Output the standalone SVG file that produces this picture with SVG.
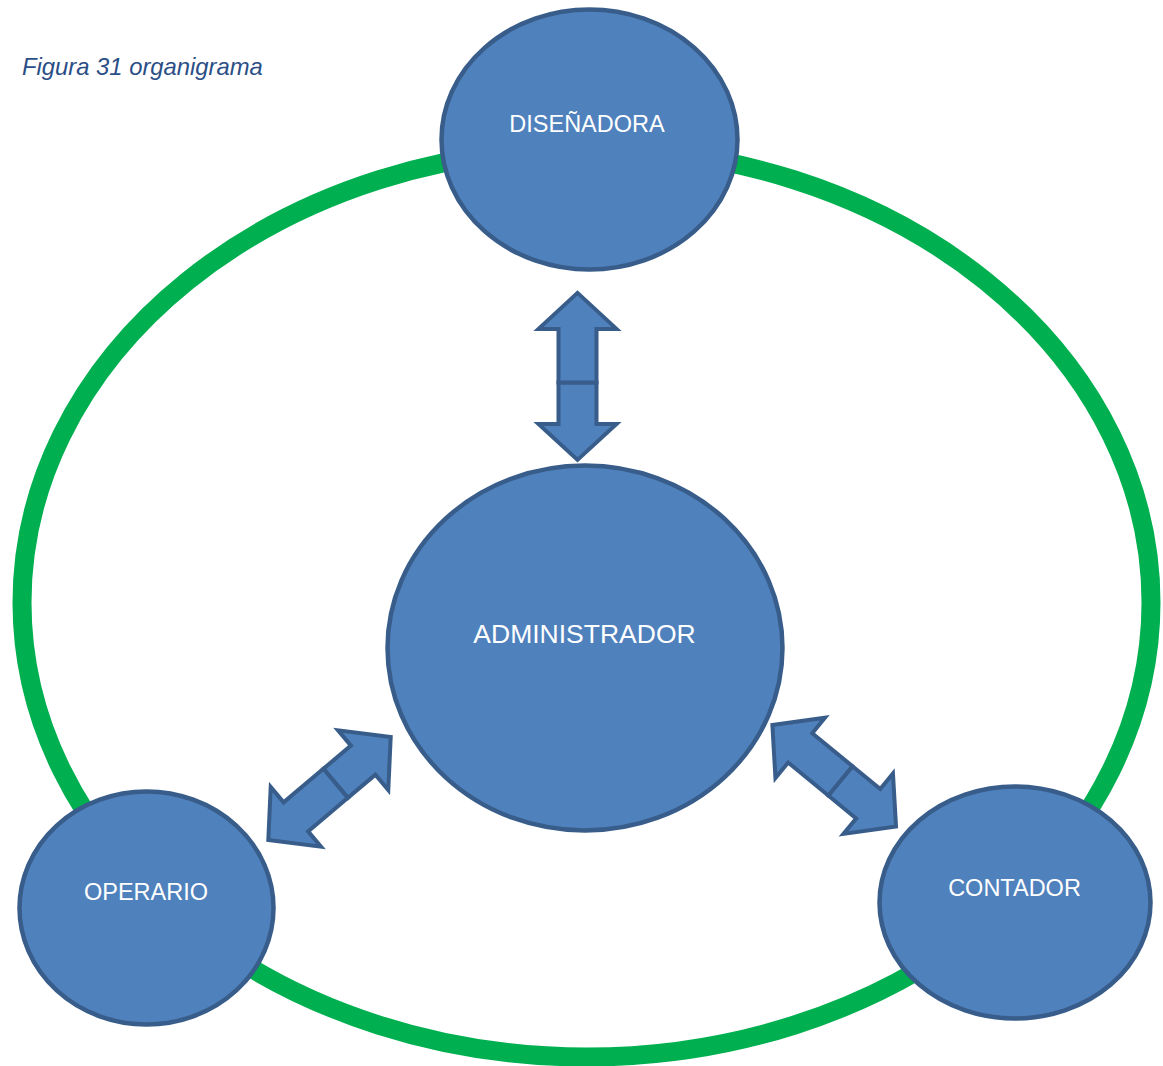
<svg xmlns="http://www.w3.org/2000/svg" width="1163" height="1066" viewBox="0 0 1163 1066">
  <style>
    .node { fill: #4F81BD; stroke: #385D8A; stroke-width: 4.5; }
    .lbl { font-family: "Liberation Sans", Arial, sans-serif; fill: #FFFFFF; text-anchor: middle; }
    .arr { fill: #4F81BD; stroke: #385D8A; stroke-width: 4; stroke-linejoin: miter; }
    .ring { fill: none; stroke: #00B050; stroke-width: 19; }
  </style>
  <rect x="0" y="0" width="1163" height="1066" fill="#FFFFFF"/>
  <text x="22" y="75" font-family="'Liberation Sans', Arial, sans-serif" font-style="italic" font-size="23.8" fill="#2B4E86">Figura 31 organigrama</text>
  <g id="ring">
    <ellipse class="ring" cx="586.5" cy="602.5" rx="564.5" ry="454.5"/>
  </g>
  <g id="node-disenadora">
    <ellipse class="node" cx="589.5" cy="139.5" rx="148" ry="130"/>
    <text class="lbl" x="587" y="131.5" font-size="23.5">DISEÑADORA</text>
  </g>
  <g id="node-administrador">
    <ellipse class="node" cx="585" cy="648" rx="197.5" ry="182.5"/>
    <text class="lbl" x="584.5" y="642.5" font-size="26.5">ADMINISTRADOR</text>
  </g>
  <g id="node-operario">
    <ellipse class="node" cx="146.5" cy="908" rx="127" ry="116.5"/>
    <text class="lbl" x="146" y="899.5" font-size="23.5">OPERARIO</text>
  </g>
  <g id="node-contador">
    <ellipse class="node" cx="1015" cy="902.5" rx="135.5" ry="116"/>
    <text class="lbl" x="1014.5" y="895.5" font-size="23.5">CONTADOR</text>
  </g>
  <g id="connectors">
    <g transform="translate(577.5 376.4) rotate(90)">
      <polygon class="arr" points="6,-19 47.5,-19 47.5,-39 83.5,0 47.5,39 47.5,19 6,19"/>
      <polygon class="arr" points="6,-19 -47.5,-19 -47.5,-39 -83.5,0 -47.5,39 -47.5,19 6,19"/>
    </g>
    <g transform="translate(329.5 788.5) rotate(-40.1)">
      <polygon class="arr" points="8,-19 44,-19 44,-39 80,0 44,39 44,19 8,19"/>
      <polygon class="arr" points="8,-19 -44,-19 -44,-39 -80,0 -44,39 -44,19 8,19"/>
    </g>
    <g transform="translate(834.2 775.8) rotate(39.4)">
      <polygon class="arr" points="8,-19 44,-19 44,-39 80,0 44,39 44,19 8,19"/>
      <polygon class="arr" points="8,-19 -44,-19 -44,-39 -80,0 -44,39 -44,19 8,19"/>
    </g>
  </g>
</svg>
